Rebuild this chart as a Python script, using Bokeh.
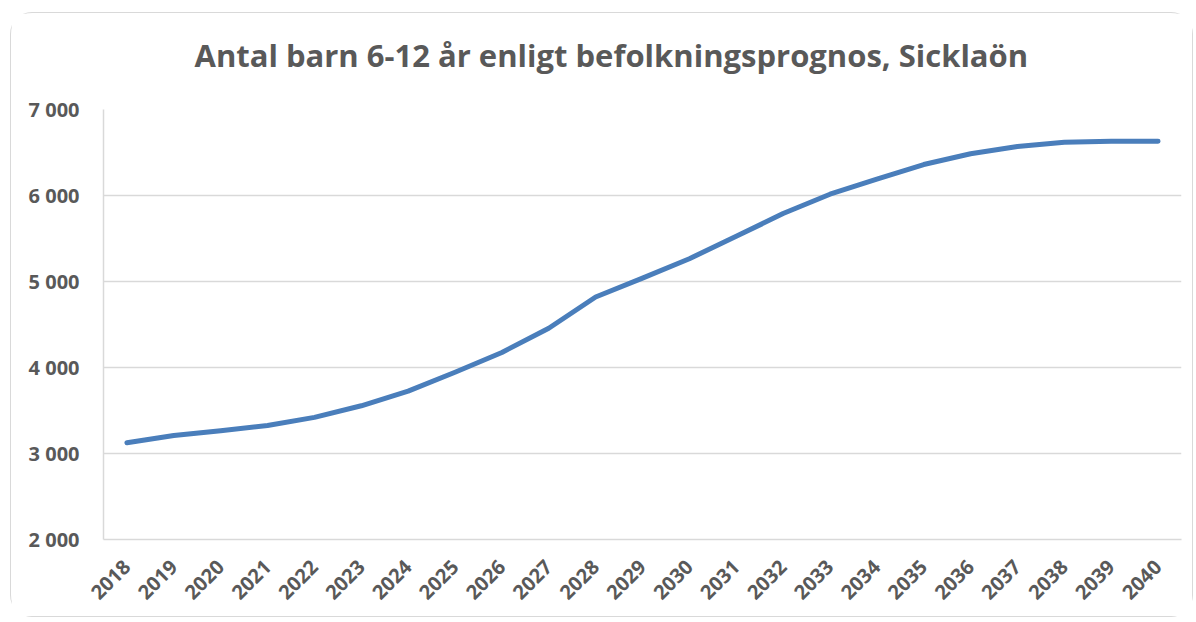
from math import pi
from bokeh.plotting import figure
from bokeh.models import FactorRange, Range1d, FixedTicker, Title
from bokeh.embed import file_html
from bokeh.resources import INLINE

title_text = "Antal barn 6-12 år enligt befolkningsprognos, Sicklaön"
years = [str(y) for y in range(2018, 2041)]
children = [3125, 3210, 3265, 3325, 3420, 3555, 3725, 3945, 4175, 4456,
            4820, 5040, 5265, 5525, 5790, 6015, 6190, 6360, 6485, 6570,
            6618, 6630, 6632]
y_ticks = [2000, 3000, 4000, 5000, 6000, 7000]
y_tick_labels = ["2 000", "3 000", "4 000", "5 000", "6 000", "7 000"]

FONT = "Open Sans"
TEXT = "#595959"
GRID = "#d9d9d9"

p = figure(width=1183, height=605, output_backend="svg", toolbar_location=None,
           x_range=FactorRange(*years, range_padding=0),
           y_range=Range1d(2000, 7000),
           min_border_left=92, min_border_right=13, min_border_top=96,
           min_border_bottom=79)
p.styles = {"margin-left": "10px", "margin-top": "12px",
            "border": "1.5px solid #d9d9d9", "border-radius": "22px"}
p.background_fill_color = "white"
p.border_fill_color = "white"
p.outline_line_color = None

# spacer panel between the plot area and the title (added first = nearest frame)
spacer = Title(text=" ", text_font=FONT, text_font_size="10px",
               text_color="white", standoff=16)
p.add_layout(spacer, "above")

t = Title(text=title_text, align="left", offset=91, vertical_align="top",
          text_font=FONT, text_font_size="31px", text_font_style="bold",
          text_color=TEXT, standoff=0)
p.add_layout(t, "above")

p.line(x=years, y=children, line_color="#4A7EBB", line_width=5,
       line_cap="round", line_join="round")

p.xgrid.grid_line_color = None
p.ygrid.grid_line_color = GRID
p.ygrid.grid_line_width = 1.5
p.ygrid.ticker = FixedTicker(ticks=y_ticks)

p.yaxis.ticker = FixedTicker(ticks=y_ticks)
p.yaxis.major_label_overrides = {t_: l for t_, l in zip(y_ticks, y_tick_labels)}
p.yaxis.axis_line_color = GRID
p.yaxis.axis_line_width = 1.5
p.yaxis.major_tick_line_color = None
p.yaxis.minor_tick_line_color = None
p.yaxis.major_label_standoff = 18

p.xaxis.axis_line_color = GRID
p.xaxis.axis_line_width = 1.5
p.xaxis.major_tick_line_color = None
p.xaxis.major_label_orientation = pi / 4
p.xaxis.major_label_standoff = 18

for ax in (p.xaxis, p.yaxis):
    ax.major_label_text_font = FONT
    ax.major_label_text_font_size = "20px"
    ax.major_label_text_font_style = "bold"
    ax.major_label_text_color = TEXT

open("out.html", "w").write(file_html(p, INLINE))
